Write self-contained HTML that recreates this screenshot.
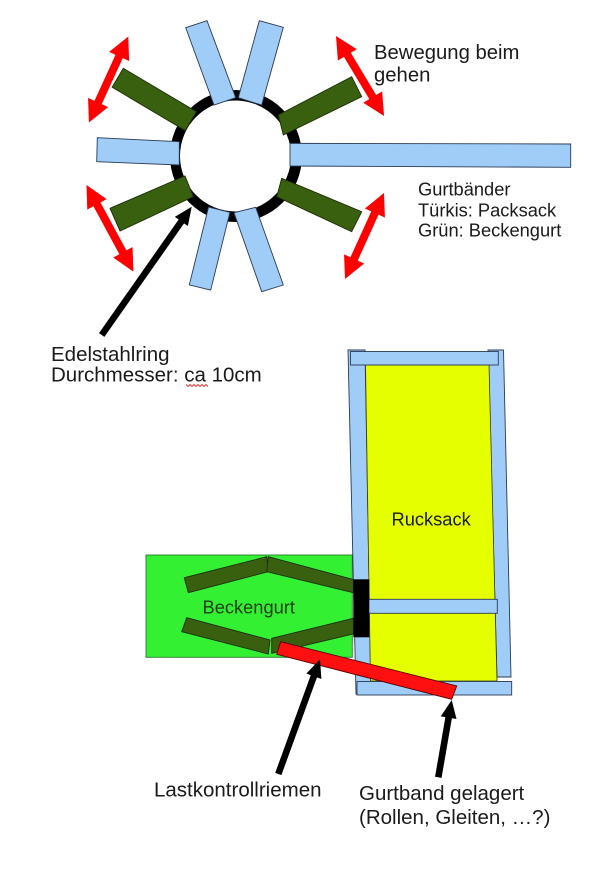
<!DOCTYPE html>
<html><head><meta charset="utf-8"><style>
html,body{margin:0;padding:0;background:#fff;}
svg{display:block;}
text{font-family:"Liberation Sans",Arial,sans-serif;fill:#1a1a1a;}
</style></head><body>
<svg width="615" height="869" viewBox="0 0 615 869" xmlns="http://www.w3.org/2000/svg">
<rect width="615" height="869" fill="#fff"/>
<!-- ring -->
<circle cx="236" cy="156" r="66" fill="#000"/>
<circle cx="235.5" cy="156" r="55.5" fill="#fff"/>
<g fill="#9fcdf8" stroke="#2b3a55" stroke-width="0.9">
<polygon points="185.7,27.7 207,20.7 235.7,97.7 214,105"/>
<polygon points="259.3,20.7 283.3,27.3 261.7,105 238.3,97.7"/>
<polygon points="208.5,207.1 229.9,212.3 210.7,290.1 189.3,284.9"/>
<polygon points="234,212.7 255.7,207.3 283.3,285 261.7,291.7"/>
<polygon points="97.3,137.7 179.3,141.7 179.3,165 96.7,161.7"/>
<polygon points="290,143.3 570.7,144 570.7,167.3 290,166"/>
</g>
<g fill="#38600e" stroke="#1e2e08" stroke-width="0.9">
<polygon points="123.3,68.3 196.4,111.7 185.2,130.6 112.1,87.2"/>
<polygon points="110,208.3 185,176 193.3,196.7 120,231"/>
<polygon points="278.3,115 351.7,76.7 361.7,96.7 283.3,135"/>
<polygon points="281.7,178.3 361.7,211.7 351.7,231.7 276.7,196.7"/>
</g>
<!-- red double arrows -->
<g fill="#ff0000">
<g transform="translate(128.3,36.5) rotate(114.6)"><polygon points="0,0 22,-11 22,-4 72.6,-4 72.6,-11 94.6,0 72.6,11 72.6,4 22,4 22,11"/></g>
<g transform="translate(86.5,185) rotate(61.6)"><polygon points="0,0 22,-11 22,-4 76.5,-4 76.5,-11 98.5,0 76.5,11 76.5,4 22,4 22,11"/></g>
<g transform="translate(336,36) rotate(59)"><polygon points="0,0 22,-11 22,-4 71.3,-4 71.3,-11 93.3,0 71.3,11 71.3,4 22,4 22,11"/></g>
<g transform="translate(384,193) rotate(114.4)"><polygon points="0,0 22,-11 22,-4 72.4,-4 72.4,-11 94.4,0 72.4,11 72.4,4 22,4 22,11"/></g>
</g>
<!-- ring arrow -->
<g fill="#000">
<g transform="translate(101.7,335) rotate(-54.95)"><polygon points="0,-3.3 138.7,-3.3 138.7,-8 156.7,0 138.7,8 138.7,3.3 0,3.3"/></g>
</g>
<!-- texts top -->
<text x="374" y="59" font-size="20.3">Bewegung beim</text>
<text x="374" y="81.7" font-size="20.3">gehen</text>
<text x="418" y="195.7" font-size="18.3">Gurtbänder</text>
<text x="418" y="216.7" font-size="18.3">Türkis: Packsack</text>
<text x="418" y="236.7" font-size="18.3">Grün: Beckengurt</text>
<text x="51" y="361" font-size="20.5">Edelstahlring</text>
<text x="51" y="381.7" font-size="20.5">Durchmesser: ca 10cm</text>
<polyline points="186,384.5 188,386.5 190,384.5 192,386.5 194,384.5 196,386.5 198,384.5 200,386.5 202,384.5 204,386.5 206,384.5 208,386.5" fill="none" stroke="#e03030" stroke-width="0.9"/>
<!-- bottom: Beckengurt -->
<rect x="146" y="555" width="206.3" height="102.3" fill="#33f033" stroke="#2a7a2a" stroke-width="0.9"/>
<g fill="#38600e" stroke="#1e2e08" stroke-width="0.9">
<polygon points="184.3,577.7 266.7,556.7 268.3,571.7 188.3,592.7"/>
<polygon points="268.3,556.7 355,580 353.3,592.7 266.7,571.7"/>
<polygon points="186.7,617.7 270,640 268.3,654 181.7,631.7"/>
<polygon points="271.7,638.3 353.3,618.3 356,633.3 271.7,653.3"/>
</g>
<text x="202.5" y="613.3" font-size="18.3" style="fill:#1f3d10">Beckengurt</text>
<!-- Rucksack -->
<g fill="#9fcdf8" stroke="#2b3a55" stroke-width="0.9">
<polygon points="348,350 365,350 371,694 356,694"/>
<polygon points="488,350 503.5,350 511,677 497,677"/>
</g>
<polygon points="365.5,365 489,365 497,681 370.5,681" fill="#e5ff00" stroke="#3a3a20" stroke-width="0.8"/>
<g fill="#9fcdf8" stroke="#2b3a55" stroke-width="0.9">
<rect x="350.5" y="351.5" width="147.8" height="13.5"/>
<rect x="366.7" y="599.3" width="130.6" height="14"/>
<rect x="357" y="681.5" width="154.7" height="13.5"/>
</g>
<text x="391.5" y="525.7" font-size="18.3">Rucksack</text>
<rect x="353.3" y="579.3" width="16" height="58" fill="#000"/>
<!-- red strap -->
<polygon points="280.7,641.7 456.7,686 451.7,699.3 276.7,654.3" fill="#ff1010" stroke="#5a0000" stroke-width="0.9"/>
<!-- bottom arrows -->
<g fill="#000">
<g transform="translate(278.3,774) rotate(-70)"><polygon points="0,-3.3 104,-3.3 104,-8 122,0 104,8 104,3.3 0,3.3"/></g>
<g transform="translate(438.3,777.3) rotate(-80.17)"><polygon points="0,-3.3 60.5,-3.3 60.5,-8 78.5,0 60.5,8 60.5,3.3 0,3.3"/></g>
</g>
<text x="154" y="796.7" font-size="20.5">Lastkontrollriemen</text>
<text x="359" y="800" font-size="20.5">Gurtband gelagert</text>
<text x="359" y="824" font-size="20.5">(Rollen, Gleiten, …?)</text>
</svg>
</body></html>
